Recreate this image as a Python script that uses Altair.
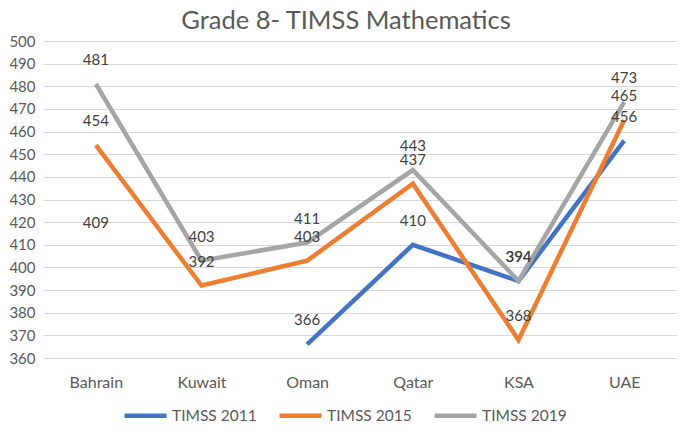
import altair as alt
import pandas as pd

countries = ["Bahrain", "Kuwait", "Oman", "Qatar", "KSA", "UAE"]
timss_2011 = [409, None, 366, 410, 394, 456]
timss_2015 = [454, 392, 403, 437, 368, 465]
timss_2019 = [481, 403, 411, 443, 394, 473]
series_names = ["TIMSS 2011", "TIMSS 2015", "TIMSS 2019"]
series_colors = ["#4472C4", "#ED7D31", "#A5A5A5"]
y_ticks = list(range(360, 501, 10))

rows = []
for name, vals in zip(series_names, [timss_2011, timss_2015, timss_2019]):
    for c, v in zip(countries, vals):
        rows.append({"country": c, "series": name, "score": v})
df = pd.DataFrame(rows)

font = "Lato"
text_col = "#595959"

x = alt.X("country:N", sort=countries, title=None,
          scale=alt.Scale(paddingInner=0, paddingOuter=0.5),
          axis=alt.Axis(labelAngle=0, labelFontSize=16, labelColor=text_col,
                        labelFont=font, domain=False, ticks=False, labelPadding=16))
y = alt.Y("score:Q", title=None,
          scale=alt.Scale(domain=[360, 500], nice=False, zero=False),
          axis=alt.Axis(values=y_ticks, labelFontSize=15, labelColor=text_col,
                        labelFont=font, domain=False, ticks=False, labelPadding=8,
                        gridColor="#d9d9d9", gridWidth=1))
color = alt.Color("series:N", sort=series_names,
                  scale=alt.Scale(domain=series_names, range=series_colors),
                  legend=alt.Legend(title=None, orient="none", direction="horizontal",
                                    legendX=79, legendY=351,
                                    symbolType="stroke", symbolSize=1764,
                                    symbolStrokeWidth=4.5, labelFontSize=15.5,
                                    labelColor=text_col, labelFont=font,
                                    labelOffset=3, columnPadding=13))

base = alt.Chart(df)
lines = base.mark_line(strokeWidth=4.5, invalid="break-paths-filter-domains").encode(
    x=x, y=y, color=color, order=alt.Order("country_idx:Q")
).transform_calculate(country_idx="indexof(%s, datum.country)" % str(countries).replace("'", '"'))

labels = base.transform_filter("isValid(datum.score)").mark_text(
    dy=-24, fontSize=15, font=font, color="#404040", baseline="middle"
).encode(x=x, y=y, text=alt.Text("score:Q", format="d"))

chart = alt.layer(lines, labels).properties(
    width=634, height=317,
    autosize=alt.AutoSizeParams(type="none"),
    padding={"left": 35, "top": 33, "right": 0, "bottom": 65},
    title=alt.TitleParams("Grade 8- TIMSS Mathematics", fontSize=25.5, font=font,
                          color=text_col, fontWeight="normal", offset=0, dx=-14,
                          dy=0),
).configure_view(stroke=None)

chart.save("out.html", embed_options={"renderer": "svg", "actions": False})
